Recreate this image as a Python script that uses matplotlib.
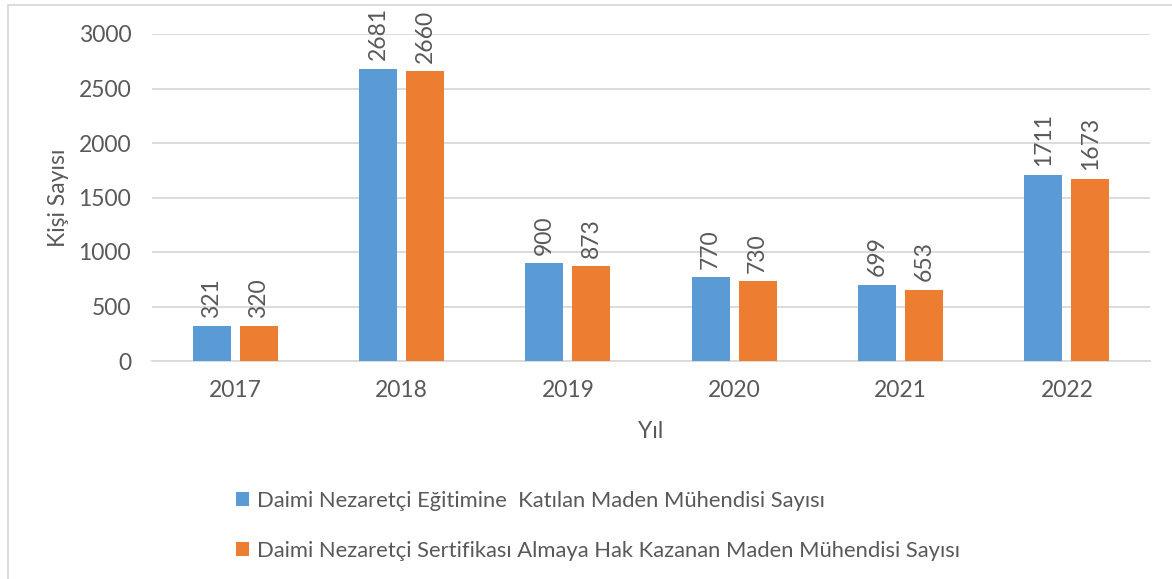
import matplotlib
matplotlib.use("Agg")
import matplotlib.pyplot as plt
from matplotlib.patches import Rectangle
import numpy as np

years = ["2017", "2018", "2019", "2020", "2021", "2022"]
katilan = [321, 2681, 900, 770, 699, 1711]
kazanan = [320, 2660, 873, 730, 653, 1673]
series_names = [
    "Daimi Nezaretçi Eğitimine  Katılan Maden Mühendisi Sayısı",
    "Daimi Nezaretçi Sertifikası Almaya Hak Kazanan Maden Mühendisi Sayısı",
]
yticks = [0, 500, 1000, 1500, 2000, 2500, 3000]

BLUE = "#5B9BD5"
ORANGE = "#ED7D31"
TEXT = "#595959"
GRID = "#D9D9D9"

plt.rcParams["font.family"] = ["Lato", "DejaVu Sans"]

W, H = 1172, 579
fig = plt.figure(figsize=(W / 100, H / 100), dpi=100)
ax = fig.add_axes([152 / W, 1 - 361 / H, (1150 - 152) / W, (361 - 34) / H])

x = np.arange(len(years))
bw = 0.228
off = 0.141
b1 = ax.bar(x - off, katilan, bw, color=BLUE, label=series_names[0], zorder=3)
b2 = ax.bar(x + off, kazanan, bw, color=ORANGE, label=series_names[1], zorder=3)

for bars, vals in ((b1, katilan), (b2, kazanan)):
    for r, v in zip(bars, vals):
        ax.annotate(str(v), (r.get_x() + r.get_width() / 2, v), xytext=(0, 6),
                    textcoords="offset points", rotation=90, ha="center", va="bottom",
                    fontsize=16.5, color=TEXT)

ax.set_xlim(-0.5, len(years) - 0.5)
ax.set_ylim(0, 3000)
ax.set_yticks(yticks)
ax.set_yticklabels([str(t) for t in yticks])
ax.set_xticks(x)
ax.set_xticklabels(years)
ax.tick_params(axis="both", length=0, labelsize=16.5, labelcolor=TEXT)
ax.tick_params(axis="y", pad=15)
ax.tick_params(axis="x", pad=14)
ax.grid(axis="y", color=GRID, linewidth=1.3, zorder=0)
for s in ("top", "right", "left"):
    ax.spines[s].set_visible(False)
ax.spines["bottom"].set_color(GRID)
ax.spines["bottom"].set_linewidth(1.3)

ax.set_ylabel("Kişi Sayısı", fontsize=16.5, color=TEXT, labelpad=7)
ax.set_xlabel("Yıl", fontsize=16.5, color=TEXT, labelpad=14)

leg = fig.legend(handles=[b1, b2], loc="upper left", bbox_to_anchor=(225 / W, 1 - 480 / H),
                 ncol=1, frameon=False, fontsize=15.8, labelcolor=TEXT,
                 handlelength=0.6, handleheight=0.6, handletextpad=0.35, labelspacing=1.37,
                 borderpad=0)

fig.patches.append(Rectangle((8 / W, -0.1), 1.2, 1 - 5 / H + 0.1, transform=fig.transFigure,
                             fill=False, edgecolor=GRID, linewidth=1.3))

fig.savefig("out.png", dpi=100)
